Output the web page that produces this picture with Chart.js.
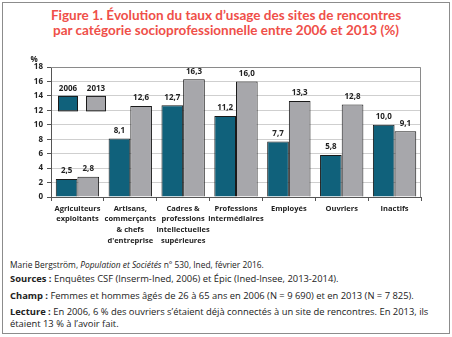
<!DOCTYPE html>
<html>
<head>
<meta charset="utf-8">
<script src="https://cdn.jsdelivr.net/npm/chart.js@4"></script>
<style>
  body { margin: 0; width: 452px; height: 337px; background: #fff; position: relative; overflow: hidden; }
  .frame { position: absolute; left: 2px; top: 2px; width: 446px; height: 330px; border: 1px solid #8c8c8c; }
  .title { position: absolute; left: 0; top: 8px; width: 452px; text-align: center; color: #ef4f49;
           font: bold 13.5px Lato, "Open Sans", sans-serif; line-height: 15px; }
  #wrap { position: absolute; left: 0; top: 40px; width: 452px; height: 215px; }
  .foot { position: absolute; left: 10px; width: 436px; color: #222; font-family: "Open Sans", sans-serif; font-size: 9.4px; line-height: 12px; }
  .foot b { font-weight: bold; }
</style>
</head>
<body>
<div class="frame"></div>
<div class="title">Figure 1. Évolution du taux d’usage des sites de rencontres<br>par catégorie socioprofessionnelle entre 2006 et 2013 (%)</div>
<div id="wrap"><canvas id="c"></canvas></div>
<div class="foot" style="top:259px;font-size:8.4px;">Marie Bergström, <i>Population et Sociétés</i> n° 530, Ined, février 2016.</div>
<div class="foot" style="top:273px;"><b>Sources :</b> Enquêtes CSF (Inserm-Ined, 2006) et Épic (Ined-Insee, 2013-2014).</div>
<div class="foot" style="top:290px;"><b>Champ :</b> Femmes et hommes âgés de 26 à 65 ans en 2006 (N = 9 690) et en 2013 (N = 7 825).</div>
<div class="foot" style="top:306px;"><b>Lecture :</b> En 2006, 6 % des ouvriers s’étaient déjà connectés à un site de rencontres. En 2013, ils étaient 13 % à l’avoir fait.</div>
<script>
const categories = [
  ['Agriculteurs', 'exploitants'],
  ['Artisans,', 'commerçants', '& chefs', "d'entreprise"],
  ['Cadres &', 'professions', 'intellectuelles', 'supérieures'],
  ['Professions', 'intermédiaires'],
  ['Employés'],
  ['Ouvriers'],
  ['Inactifs']
];
const values2006 = [2.5, 8.1, 12.7, 11.2, 7.7, 5.8, 10.0];
const values2013 = [2.8, 12.6, 16.3, 16.0, 13.3, 12.8, 9.1];
const seriesNames = ['2006', '2013'];
const yTicks = [0, 2, 4, 6, 8, 10, 12, 14, 16, 18];

const colors = ['#10617b', '#a7a7ab'];
const fontFam = '"Open Sans", sans-serif';

// value labels above bars, comma decimals
const valueLabels = {
  id: 'valueLabels',
  afterDatasetsDraw(chart) {
    const ctx = chart.ctx;
    ctx.save();
    ctx.font = 'bold 8px ' + fontFam;
    ctx.fillStyle = '#222';
    ctx.textAlign = 'center';
    ctx.textBaseline = 'bottom';
    chart.data.datasets.forEach((ds, i) => {
      chart.getDatasetMeta(i).data.forEach((bar, j) => {
        ctx.fillText(ds.data[j].toFixed(1).replace('.', ','), bar.x, bar.y - 4);
      });
    });
    ctx.restore();
  }
};

// plot box border (top/right) and legend boxes inside the plot
const boxAndLegend = {
  id: 'boxAndLegend',
  afterDraw(chart) {
    const ctx = chart.ctx, a = chart.chartArea, y = chart.scales.y;
    ctx.save();
    ctx.strokeStyle = '#8a8a8a';
    ctx.lineWidth = 1;
    ctx.beginPath();
    ctx.moveTo(a.left, a.top + 0.5);
    ctx.lineTo(a.right - 0.5, a.top + 0.5);
    ctx.lineTo(a.right - 0.5, a.bottom);
    ctx.stroke();
    const top = y.getPixelForValue(14), bot = y.getPixelForValue(12);
    ctx.font = 'bold 8px ' + fontFam;
    ctx.textAlign = 'center';
    ctx.textBaseline = 'bottom';
    seriesNames.forEach((name, i) => {
      const x0 = a.left + 7 + i * 28;
      ctx.fillStyle = colors[i];
      ctx.fillRect(x0, top, 19, bot - top);
      ctx.strokeStyle = '#1a1a1a';
      ctx.strokeRect(x0 + 0.5, top + 0.5, 19, bot - top);
      ctx.fillStyle = '#222';
      ctx.fillText(name, x0 + 10, top - 3);
    });
    ctx.fillText('%', a.left - 17, a.top - 3);
    ctx.restore();
  }
};

new Chart(document.getElementById('c'), {
  type: 'bar',
  data: {
    labels: categories,
    datasets: [
      { label: seriesNames[0], data: values2006, backgroundColor: colors[0], borderColor: '#1a1a1a', borderWidth: 1 },
      { label: seriesNames[1], data: values2013, backgroundColor: colors[1], borderColor: '#1a1a1a', borderWidth: 1 }
    ]
  },
  options: {
    responsive: true,
    maintainAspectRatio: false,
    animation: false,
    layout: { padding: { left: 21, right: 31, top: 27, bottom: 0 } },
    datasets: { bar: { categoryPercentage: 0.82, barPercentage: 1 } },
    plugins: { legend: { display: false }, tooltip: { enabled: false } },
    scales: {
      x: {
        grid: { display: true, offset: true, drawOnChartArea: false, tickLength: 4, tickColor: '#555' },
        border: { color: '#555' },
        ticks: { color: '#222', font: { family: fontFam, size: 7.5, weight: 'bold', lineHeight: 1.45 }, padding: 2, maxRotation: 0, autoSkip: false },
        afterFit(s) { s.height = 58; }
      },
      y: {
        min: 0, max: 18,
        afterBuildTicks(s) { s.ticks = yTicks.map(v => ({ value: v })); },
        grid: { color: '#cfcfcf', tickColor: '#555', tickLength: 4 },
        border: { color: '#555' },
        ticks: { color: '#222', font: { family: fontFam, size: 8, weight: 'bold' }, padding: 4 },
        afterFit(s) { s.width = 30; }
      }
    }
  },
  plugins: [valueLabels, boxAndLegend]
});
</script>
</body>
</html>
